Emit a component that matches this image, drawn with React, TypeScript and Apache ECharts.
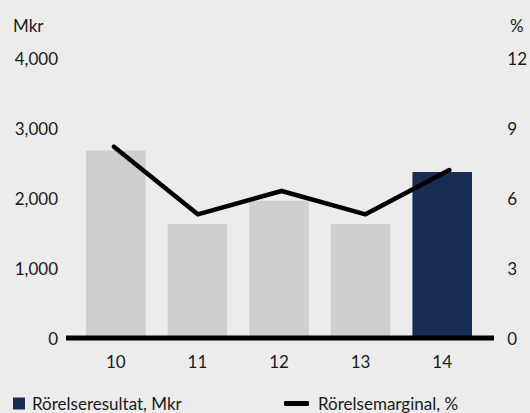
import React, { useEffect, useRef } from "react";
import * as echarts from "echarts";

const categories = ["10", "11", "12", "13", "14"];
const resultat = [2680, 1630, 1960, 1630, 2370];
const marginal = [8.2, 5.3, 6.3, 5.3, 7.2];
const leftTicks = [0, 1000, 2000, 3000, 4000];
const rightTicks = [0, 3, 6, 9, 12];

const FONT = "Lato";

export default function App() {
  const ref = useRef<HTMLDivElement>(null);
  useEffect(() => {
    const chart = echarts.init(ref.current!, null, { renderer: "svg" });
    const barColors = resultat.map((_, i) => (i === resultat.length - 1 ? "#172d54" : "#d0cfcd"));
    chart.setOption({
      animation: false,
      backgroundColor: "#ececec",
      textStyle: { fontFamily: FONT },
      grid: [
        { left: 75, right: 47, top: 58, bottom: 75 },
        { left: 72, right: 36, top: 58, bottom: 75 },
      ],
      xAxis: [
        {
          type: "category",
          gridIndex: 0,
          data: categories,
          axisLine: { show: false },
          axisTick: { show: false },
          axisLabel: { color: "#1a1a1a", fontSize: 17, margin: 15, fontFamily: FONT },
        },
        {
          type: "category",
          gridIndex: 1,
          data: categories,
          show: false,
        },
      ],
      yAxis: [
        {
          type: "value",
          gridIndex: 0,
          min: 0,
          max: leftTicks[leftTicks.length - 1],
          interval: 1000,
          splitLine: { show: false },
          axisLine: { show: false },
          axisTick: { show: false },
          axisLabel: {
            color: "#1a1a1a",
            fontSize: 17,
            margin: 17,
            fontFamily: FONT,
            formatter: (v: number) => v.toLocaleString("en-US"),
          },
        },
        {
          type: "value",
          gridIndex: 1,
          position: "right",
          min: 0,
          max: rightTicks[rightTicks.length - 1],
          interval: 3,
          splitLine: { show: false },
          axisLine: { show: false },
          axisTick: { show: false },
          axisLabel: { color: "#1a1a1a", fontSize: 17, margin: 16, fontFamily: FONT },
        },
      ],
      legend: [
        {
          left: 13,
          top: 395,
          itemWidth: 12,
          itemHeight: 12,
          itemGap: 20,
          icon: "rect",
          data: [{ name: "Rörelseresultat, Mkr", itemStyle: { color: "#172d54" } }],
          textStyle: { fontSize: 17, lineHeight: 16, color: "#1a1a1a", fontFamily: FONT, padding: [0, 0, 0, 2] },
          padding: 0,
        },
        {
          left: 284,
          top: 395,
          itemWidth: 25,
          itemHeight: 5,
          icon: "roundRect",
          data: ["Rörelsemarginal, %"],
          textStyle: { fontSize: 17, lineHeight: 16, color: "#1a1a1a", fontFamily: FONT, padding: [0, 0, 0, 4] },
          padding: 0,
        },
      ],
      graphic: [
        {
          type: "text",
          left: 13,
          top: 17,
          style: { text: "Mkr", fontSize: 17, fill: "#1a1a1a", fontFamily: FONT },
        },
        {
          type: "text",
          left: 510,
          top: 17,
          style: { text: "%", fontSize: 17, fill: "#1a1a1a", fontFamily: FONT },
        },
        {
          type: "line",
          z: 100,
          shape: { x1: 66, y1: 338, x2: 494, y2: 338 },
          style: { stroke: "#000000", lineWidth: 5 },
        },
      ],
      series: [
        {
          name: "Rörelseresultat, Mkr",
          type: "bar",
          xAxisIndex: 0,
          yAxisIndex: 0,
          barWidth: "73%",
          data: resultat.map((v, i) => ({ value: v, itemStyle: { color: barColors[i] } })),
          itemStyle: { color: "#172d54" },
        },
        {
          name: "Rörelsemarginal, %",
          type: "line",
          xAxisIndex: 1,
          yAxisIndex: 1,
          data: marginal,
          symbol: "none",
          lineStyle: { color: "#000000", width: 4.5, cap: "round", join: "round" },
          itemStyle: { color: "#000000" },
          z: 5,
        },
      ],
    });
    return () => chart.dispose();
  }, []);
  return <div ref={ref} style={{ width: 530, height: 413, position: "absolute", left: 0, top: 0 }} />;
}
